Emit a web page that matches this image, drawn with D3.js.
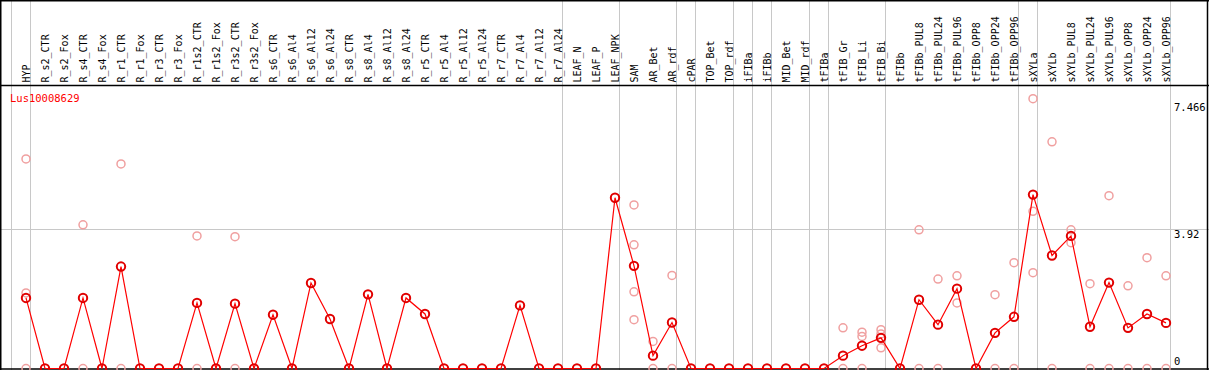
<!DOCTYPE html>
<html>
<head>
<meta charset="utf-8">
<script src="https://cdn.jsdelivr.net/npm/d3@7"></script>
<style>
  body { margin: 0; background: #fff; }
  svg { display: block; }
</style>
</head>
<body>
<div id="chart"></div>
<script>
// 样本名称
const labels = ["HYP", "R_s2_CTR", "R_s2_Fox", "R_s4_CTR", "R_s4_Fox", "R_r1_CTR", "R_r1_Fox",
  "R_r3_CTR", "R_r3_Fox", "R_r1s2_CTR", "R_r1s2_Fox", "R_r3s2_CTR", "R_r3s2_Fox",
  "R_s6_CTR", "R_s6_Al4", "R_s6_Al12", "R_s6_Al24", "R_s8_CTR", "R_s8_Al4", "R_s8_Al12", "R_s8_Al24",
  "R_r5_CTR", "R_r5_Al4", "R_r5_Al12", "R_r5_Al24", "R_r7_CTR", "R_r7_Al4", "R_r7_Al12", "R_r7_Al24",
  "LEAF_N", "LEAF_P", "LEAF_NPK", "SAM", "AR_Bet", "AR_rdf", "cPAR", "TOP_Bet", "TOP_rdf",
  "iFIBa", "iFIBb", "MID_Bet", "MID_rdf", "tFIBa", "tFIB_Gr", "tFIB_Li", "tFIB_Bi", "tFIBb",
  "tFIBb_PUL8", "tFIBb_PUL24", "tFIBb_PUL96", "tFIBb_OPP8", "tFIBb_OPP24", "tFIBb_OPP96",
  "sXYLa", "sXYLb", "sXYLb_PUL8", "sXYLb_PUL24", "sXYLb_PUL96", "sXYLb_OPP8", "sXYLb_OPP24", "sXYLb_OPP96"];

// 平均值
const means = [1.98, 0, 0, 1.98, 0, 2.86, 0, 0, 0, 1.84, 0, 1.82, 0,
  1.51, 0, 2.40, 1.39, 0, 2.08, 0, 1.98,
  1.53, 0, 0, 0, 0, 1.77, 0, 0,
  0, 0, 4.79, 2.88, 0.36, 1.29, 0, 0, 0,
  0, 0, 0, 0, 0, 0.36, 0.64, 0.86, 0,
  1.93, 1.23, 2.24, 0, 1.00, 1.45,
  4.88, 3.17, 3.72, 1.17, 2.41, 1.14, 1.53, 1.28];

// 重复样本值
const replicates = [[5.88, 2.12, 0], [], [], [4.03, 0], [], [5.74, 0], [], [], [], [3.72, 0], [], [3.70, 0], [],
  [], [], [], [], [], [], [], [],
  [], [], [], [], [], [], [], [],
  [], [], [], [4.59, 3.47, 2.15, 1.37], [0.76, 0], [2.61, 0], [], [], [],
  [], [], [], [], [], [1.14, 0], [1.02, 0.90, 0], [1.09, 0.97, 0.58], [],
  [3.89, 0], [2.51, 0], [2.60, 1.84], [], [2.07, 0], [2.97, 0],
  [7.57, 4.41, 2.69], [6.36, 0], [3.89, 3.53], [2.38, 0], [4.85, 0], [2.32, 0], [3.11, 0], [2.60, 0]];

// 分组边界 (在该样本之后画竖线)
const groupEnds = ["HYP", "R_r7_Al24", "LEAF_NPK", "AR_rdf", "cPAR", "TOP_rdf", "iFIBa", "iFIBb",
  "MID_rdf", "tFIBa", "tFIB_Bi", "tFIBb_OPP96", "sXYLa", "sXYLb_OPP96"];

const yTicks = [0, 3.92, 7.466];
const geneName = "Lus10008629";

const width = 1209, height = 370;
const headerBottom = 85.5;
const plotBottom = 368.5;

const svg = d3.select("#chart").append("svg")
  .attr("width", width)
  .attr("height", height)
  .attr("font-family", "'DejaVu Sans Mono', monospace");

const x = d3.scalePoint().domain(labels).range([26, 1166]);
const y = d3.scaleLinear().domain([0, 7.466]).range([plotBottom, plotBottom - 7.466 * 35.64]);

// 竖线
const grid = svg.append("g").attr("stroke", "#c8c8c8").attr("stroke-width", 1);
grid.append("line")
  .attr("x1", x(labels[0]) - 14.5).attr("x2", x(labels[0]) - 14.5)
  .attr("y1", 0).attr("y2", height);
grid.selectAll("line.v")
  .data(groupEnds)
  .join("line")
  .attr("class", "v")
  .attr("x1", (d) => Math.round(x(d) + 4) + 0.5)
  .attr("x2", (d) => Math.round(x(d) + 4) + 0.5)
  .attr("y1", 0)
  .attr("y2", height);

// 横向网格线
grid.selectAll("line.h")
  .data(yTicks.filter((d) => d > 0 && d < 7))
  .join("line")
  .attr("class", "h")
  .attr("x1", 0).attr("x2", width)
  .attr("y1", (d) => Math.round(y(d)) + 0.5)
  .attr("y2", (d) => Math.round(y(d)) + 0.5);

// 边框
const frame = svg.append("g").attr("stroke", "#000").attr("stroke-width", 1.5);
frame.append("line").attr("x1", 0).attr("x2", width).attr("y1", 0.75).attr("y2", 0.75);
frame.append("line").attr("x1", 0).attr("x2", width).attr("y1", headerBottom).attr("y2", headerBottom);
frame.append("line").attr("x1", 0).attr("x2", width).attr("y1", plotBottom + 0.5).attr("y2", plotBottom + 0.5);
frame.append("line").attr("x1", 0.75).attr("x2", 0.75).attr("y1", 0).attr("y2", height);
frame.append("line").attr("x1", 1207.5).attr("x2", 1207.5).attr("y1", 0).attr("y2", height);

// 列标签
svg.append("g")
  .attr("font-size", 10)
  .attr("fill", "#000")
  .selectAll("text")
  .data(labels)
  .join("text")
  .attr("transform", (d) => `translate(${x(d) + 3.5}, ${headerBottom - 3}) rotate(-90)`)
  .text((d) => d);

// 基因名
svg.append("text")
  .attr("x", 10)
  .attr("y", 102)
  .attr("font-size", 10.5)
  .attr("fill", "red")
  .text(geneName);

// y轴标签
svg.append("g")
  .attr("font-size", 10.5)
  .attr("fill", "#000")
  .selectAll("text")
  .data(yTicks)
  .join("text")
  .attr("x", 1174)
  .attr("y", (d) => (d === 0 ? y(d) - 4 : y(d) + 9))
  .text((d) => d);

// 重复样本点
const repData = [];
labels.forEach((l, i) => replicates[i].forEach((v) => repData.push({ l, v })));
svg.append("g")
  .attr("fill", "none")
  .attr("stroke", "#f0a0a0")
  .attr("stroke-width", 1.5)
  .selectAll("circle")
  .data(repData)
  .join("circle")
  .attr("cx", (d) => x(d.l))
  .attr("cy", (d) => y(d.v))
  .attr("r", 4);

// 均值折线
const line = d3.line()
  .x((d, i) => x(labels[i]))
  .y((d) => y(d));
svg.append("path")
  .datum(means)
  .attr("fill", "none")
  .attr("stroke", "red")
  .attr("stroke-width", 1.2)
  .attr("d", line);

svg.append("g")
  .attr("fill", "none")
  .attr("stroke", "#e00000")
  .attr("stroke-width", 2)
  .selectAll("circle")
  .data(means)
  .join("circle")
  .attr("cx", (d, i) => x(labels[i]))
  .attr("cy", (d) => y(d))
  .attr("r", 4.2);
</script>
</body>
</html>
